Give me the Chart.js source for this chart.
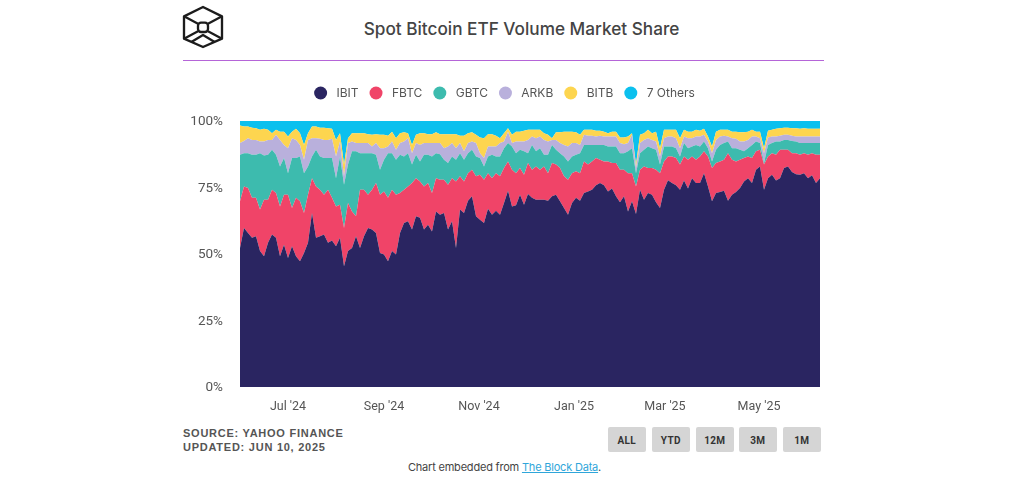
<!DOCTYPE html>
<html>
<head>
<meta charset="utf-8">
<script src="https://cdn.jsdelivr.net/npm/chart.js@4"></script>
<style>
  html, body { margin: 0; background: #fff; width: 1024px; height: 482px; overflow: hidden; }
  .abs { position: absolute; }
  #title { left: 183px; width: 677px; top: 17px; text-align: center; font: 500 17.2px Inter, sans-serif; color: #444; line-height: 24px; }
  #rule { left: 183px; top: 60px; width: 641px; height: 1px; background: #b565d8; }
  #wrap { left: 183px; top: 76px; width: 641px; height: 344px; }
  #source { left: 183px; top: 425.5px; font: bold 11px/14px "Liberation Sans", sans-serif; letter-spacing: .75px; color: #555; }
  .btn { top: 427px; width: 37.5px; height: 25px; background: #d5d5d5; border-radius: 2px; text-align: center; font: bold 10px/28px Roboto, sans-serif; color: #333; letter-spacing: .3px; }
  #embed { left: 184px; width: 641px; top: 460px; text-align: center; font: 11px/15px Inter, sans-serif; color: #444; letter-spacing: -.2px; }
  #embed a { color: #2fa6da; text-decoration: underline; }
</style>
</head>
<body>
<svg class="abs" style="left:178px;top:2px" width="50" height="50" viewBox="0 0 150 150" fill="none" stroke="#1c1c1c" stroke-width="7" stroke-linejoin="round">
  <path d="M75 15 L132 43 V110 L75 135 L18 110 V43 Z"/>
  <rect x="60" y="62" width="30" height="28" rx="9"/>
  <path d="M18 43 L60 65 M132 43 L90 65 M18 110 L60 88 M132 110 L90 88 M40 120 L75 99 L110 120"/>
</svg>
<div class="abs" id="title">Spot Bitcoin ETF Volume Market Share</div>
<div class="abs" id="rule"></div>
<div class="abs" id="wrap"><canvas id="share-chart"></canvas></div>
<div class="abs" id="source">SOURCE: YAHOO FINANCE<br>UPDATED: JUN 10, 2025</div>
<div class="abs btn" style="left:608px">ALL</div>
<div class="abs btn" style="left:652px">YTD</div>
<div class="abs btn" style="left:696px">12M</div>
<div class="abs btn" style="left:739px">3M</div>
<div class="abs btn" style="left:783px">1M</div>
<div class="abs" id="embed">Chart embedded from <a href="#">The Block Data</a>.</div>

<script>
// upper edge of each band in the stack, % of volume
const ibitTop = [52.3,59.8,57.9,56.1,56.7,51.1,49.2,54.2,57.3,56.1,49.2,53.5,48.5,52.9,49.2,47.3,50.4,54.2,65.4,56.1,
  56.7,57.3,54.2,55.1,52.9,56.1,45.4,51.1,52.3,56.7,52.3,56.7,59.8,59.2,57.9,50.4,49.8,47.3,51.1,49.8,
  57.9,61.7,62.3,59.2,64.2,63.6,59.2,61.0,58.5,66.0,64.8,65.4,59.2,62.3,52.3,66.7,65.4,70.0,71.7,64.2,
  62.9,61.7,67.0,64.8,66.3,64.8,69.2,73.8,67.9,68.3,72.3,68.5,72.6,71.1,70.4,70.4,70.4,70.0,71.7,72.3,
  69.8,67.3,64.8,69.2,71.1,70.0,72.9,73.5,74.2,75.8,76.7,75.8,73.5,74.6,71.7,69.5,71.7,66.0,69.8,65.0,
  74.2,70.4,72.9,72.3,69.5,67.3,74.2,77.7,76.7,75.8,74.2,77.6,74.6,78.5,76.7,76.7,80.4,75.4,69.8,72.9,
  73.3,73.8,70.0,72.3,73.3,74.8,77.3,78.5,76.7,81.7,82.9,74.2,78.5,79.8,77.6,78.5,82.3,82.9,80.8,80.0,
  79.8,80.4,78.5,79.6,76.7,78.5];
const fbtcTop = [69.8,75.4,74.8,71.1,71.1,66.7,70.4,70.4,74.2,72.9,67.9,72.3,72.3,67.3,71.1,69.8,65.4,72.3,78.5,75.4,
  74.2,72.3,74.2,71.1,67.9,68.5,59.8,69.2,66.0,64.2,74.2,74.2,72.3,74.2,76.7,72.3,73.5,71.1,74.2,72.3,
  72.9,74.2,75.4,76.7,78.5,77.3,75.4,76.7,72.9,78.5,77.9,77.9,76.0,78.5,77.3,79.2,77.3,80.4,81.7,79.2,
  79.8,77.9,80.4,78.5,80.4,79.2,82.3,84.8,81.7,80.4,82.3,79.8,84.2,81.7,82.9,81.7,82.9,80.4,84.2,83.6,
  82.3,79.2,77.9,80.4,81.1,80.4,84.8,83.6,84.8,86.1,85.4,84.8,84.8,84.2,84.2,81.7,81.7,80.4,80.4,75.4,
  81.7,82.9,82.3,82.3,81.7,80.4,84.8,86.7,86.7,86.1,83.6,86.7,85.4,86.7,85.4,86.7,88.6,86.7,82.3,84.2,
  84.8,85.4,87.9,85.4,84.8,85.4,86.1,86.7,86.1,88.6,89.2,83.6,86.7,87.9,87.3,89.2,89.2,89.2,87.9,87.9,
  87.3,87.9,87.3,87.9,87.3,87.3];
const gbtcTop = [87.3,87.9,87.9,87.3,87.3,87.9,87.0,87.3,89.2,87.3,82.9,86.1,80.4,86.1,86.1,86.7,80.4,82.9,86.7,89.2,
  86.7,86.1,86.1,86.1,78.5,86.7,76.0,83.6,88.6,88.6,87.9,87.9,87.9,87.9,87.3,81.7,85.4,87.9,87.9,85.4,
  87.3,86.7,87.9,83.6,87.3,84.8,87.3,87.3,86.7,87.9,87.5,85.4,84.2,86.7,85.4,87.9,85.4,87.9,89.2,86.7,
  86.1,82.9,86.7,87.3,86.7,86.7,89.8,91.7,90.4,87.9,89.2,88.6,87.9,91.0,88.6,89.8,87.3,87.3,91.0,89.2,
  87.9,86.7,84.8,86.7,87.3,87.9,91.0,91.0,91.0,91.0,91.0,91.0,90.4,90.4,90.4,87.9,87.9,88.6,89.8,80.4,
  87.9,89.2,90.4,89.8,89.2,83.6,90.4,90.4,90.4,89.8,86.7,91.7,89.8,90.4,91.0,90.4,92.3,89.8,84.8,89.2,
  91.0,91.7,92.3,89.8,89.8,89.2,88.6,89.8,91.0,92.3,91.7,84.2,91.0,91.7,92.3,92.3,92.9,92.9,92.5,92.3,
  91.7,91.7,91.7,91.7,91.7,91.7];
const arkbTop = [91.7,92.5,93.5,92.9,92.9,92.3,92.3,92.9,92.9,94.8,92.9,91.0,89.8,93.5,92.9,91.0,85.4,92.9,93.5,93.5,
  93.3,92.9,92.9,93.3,86.7,92.3,79.2,91.7,92.3,91.7,91.7,91.7,91.7,90.4,91.7,89.8,89.8,90.4,92.3,89.2,
  91.7,92.3,93.5,87.9,91.7,91.0,91.7,91.7,91.7,91.7,91.7,89.8,90.4,91.7,89.8,91.7,88.6,91.7,92.3,91.7,
  87.9,86.1,90.4,90.4,90.4,91.7,92.3,96.0,91.7,92.3,92.3,92.3,92.9,94.2,93.5,94.2,92.9,92.3,92.9,92.9,
  91.7,91.0,90.4,91.7,91.7,91.0,94.8,94.5,94.5,94.2,94.5,94.2,94.2,94.2,94.2,91.7,91.3,91.7,94.8,82.3,
  91.7,92.9,93.5,92.9,92.3,86.7,93.5,94.2,94.2,93.5,89.8,94.2,93.5,93.5,94.2,94.2,94.8,92.3,87.9,92.9,
  94.2,94.5,94.2,93.5,93.3,92.3,92.3,92.9,94.2,94.2,93.5,87.9,93.8,94.2,94.2,94.5,94.8,94.8,94.5,94.2,
  94.2,94.2,94.2,94.2,94.2,94.2];
const bitbTop = [98.3,97.9,97.9,97.5,97.3,96.7,97.1,96.7,95.4,96.7,96.0,96.0,94.2,96.0,97.1,95.4,91.0,95.4,97.9,97.9,
  97.5,97.5,97.3,97.1,92.9,95.4,83.6,93.5,95.4,95.4,95.4,95.4,95.0,94.8,95.0,94.8,94.8,94.5,96.0,93.5,
  95.4,95.8,95.4,91.0,94.8,95.4,95.4,95.0,95.0,95.8,95.0,95.0,95.0,95.0,95.0,94.5,94.5,95.4,95.8,94.8,
  93.8,93.5,95.0,95.0,94.5,93.5,95.4,97.3,94.8,96.0,96.0,96.3,96.7,96.7,96.7,96.7,95.4,94.8,93.5,95.8,
  95.8,96.0,96.0,96.0,95.8,94.8,96.7,96.7,96.7,96.3,96.3,96.0,95.4,96.0,96.0,93.8,93.8,94.2,95.4,83.6,
  94.8,95.4,96.7,95.4,96.0,89.8,96.7,96.7,96.7,96.7,93.5,96.7,96.0,96.0,96.7,96.3,97.1,94.2,90.4,96.0,
  96.7,96.7,96.7,96.0,96.0,95.8,95.8,96.0,96.7,96.0,96.0,89.8,96.3,96.7,97.1,97.3,97.5,97.5,97.3,97.3,
  97.1,97.3,97.1,97.1,97.1,97.1];
const othersTop = [100,100,100,100,100,100,100,100,100,100,100,100,100,100,100,100,100,100,100,100,
  100,100,100,100,100,100,100,100,100,100,100,100,100,100,100,100,100,100,100,100,
  100,100,100,100,100,100,100,100,100,100,100,100,100,100,100,100,100,100,100,100,
  100,100,100,100,100,100,100,100,100,100,100,100,100,100,100,100,100,100,100,100,
  100,100,100,100,100,100,100,100,100,100,100,100,100,100,100,100,100,100,100,100,
  100,100,100,100,100,100,100,100,100,100,100,100,100,100,100,100,100,100,100,100,
  100,100,100,100,100,100,100,100,100,100,100,100,100,100,100,100,100,100,100,100,
  100,100,100,100,100,100];

const seriesNames = ['IBIT', 'FBTC', 'GBTC', 'ARKB', 'BITB', '7 Others'];
const seriesColors = ['#2a2561', '#f04468', '#3dbbae', '#b9b0dc', '#fdd54f', '#0bc0ee'];
const xTickSamples = [12, 36, 59.75, 83.5, 106.25, 129.75]; // sample index of each month start
const xTickLabels = ["Jul '24", "Sep '24", "Nov '24", "Jan '25", "Mar '25", "May '25"];

const toPoints = (values) => values.map((v, i) => ({ x: i, y: v }));

const datasets = [ibitTop, fbtcTop, gbtcTop, arkbTop, bitbTop, othersTop].map((values, i) => ({
    label: seriesNames[i],
    data: toPoints(values),
    backgroundColor: seriesColors[i],
    borderColor: seriesColors[i],
    borderWidth: 0,
    pointRadius: 0,
    pointStyle: 'circle',
    tension: 0,
    fill: i === 0 ? 'origin' : '-1'
}));

// legend box gets a fixed height so the plot starts below it at the right place
const legendHeight = {
    id: 'legendHeight',
    beforeInit(chart) {
        const fit = chart.legend.fit
        chart.legend.fit = function () {
            fit.call(this)
            this.height = 45
        }
    }
}

new Chart(document.querySelector('#share-chart'), {
    type: 'line',
    data: { datasets },
    plugins: [legendHeight],
    options: {
        responsive: true,
        maintainAspectRatio: false,
        animation: false,
        layout: { padding: { left: 6, right: 4, top: 0, bottom: 0 } },
        plugins: {
            title: { display: false },
            tooltip: { enabled: false },
            legend: {
                position: 'top',
                labels: {
                    usePointStyle: true,
                    pointStyleWidth: 13,
                    boxHeight: 9.2,
                    padding: 11,
                    color: '#555',
                    font: { family: 'Inter', size: 12 },
                    generateLabels: (chart) => Chart.defaults.plugins.legend.labels.generateLabels(chart)
                        .map(item => ({ ...item, text: ' ' + item.text }))
                }
            }
        },
        scales: {
            x: {
                type: 'linear',
                min: 0,
                max: 145,
                grid: { display: false },
                border: { display: false },
                afterBuildTicks: (axis) => { axis.ticks = xTickSamples.map(v => ({ value: v })) },
                afterFit: (axis) => { axis.height = 33 },
                ticks: {
                    autoSkip: false,
                    maxRotation: 0,
                    padding: 4,
                    color: '#555',
                    font: { family: 'Roboto', size: 12.5 },
                    callback: (value, index) => xTickLabels[index]
                }
            },
            y: {
                min: 0,
                max: 100,
                grid: { display: false },
                border: { display: false },
                afterFit: (axis) => { axis.width = 51 },
                ticks: {
                    stepSize: 25,
                    padding: 9,
                    labelOffset: 1,
                    color: '#555',
                    font: { family: 'Roboto', size: 13.5 },
                    callback: (value) => value + '%'
                }
            }
        }
    }
})
</script>
</body>
</html>
